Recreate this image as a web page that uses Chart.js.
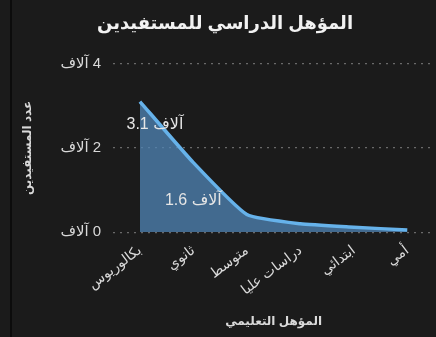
<!DOCTYPE html>
<html>
<head>
<meta charset="utf-8">
<script src="https://cdn.jsdelivr.net/npm/chart.js@4.4.0/dist/chart.umd.min.js"></script>
<style>
  body { margin: 0; background: #1b1b1b; }
  #wrap { position: relative; width: 436px; height: 337px; }
  #edge { position: absolute; left: 10px; top: 0; width: 2px; height: 337px; background: #0c0c0c; }
  canvas { position: absolute; left: 0; top: 0; }
</style>
</head>
<body>
<div id="wrap">
  <div id="edge"></div>
  <!-- rtl so "4 آلاف" puts the number on the right -->
  <canvas id="chartEdu" width="436" height="337" dir="rtl"></canvas>
</div>
<script>
// categories (education level)
const categories = ['بكالوريوس', 'ثانوي', 'متوسط', 'دراسات عليا', 'ابتدائي', 'أمي'];
// number of beneficiaries
const beneficiaries = [3100, 1650, 420, 200, 120, 50];
// y ticks
const Y_MAX = 4000;
const Y_STEP = 2000;

const TXT = '#d9d9d9';
const FONT = 'Arial, "DejaVu Sans", sans-serif';

// value labels on the big points only
const valueLabels = {
    id: 'valueLabels',
    afterDatasetsDraw(chart) {
        const ctx = chart.ctx;
        const meta = chart.getDatasetMeta(0);
        const shift = [[15, 23], [0, 38]];
        ctx.save();
        ctx.direction = 'ltr';
        ctx.font = '16px ' + FONT;
        ctx.fillStyle = '#e6e6e6';
        ctx.textAlign = 'center';
        ctx.textBaseline = 'middle';
        meta.data.forEach((pt, i) => {
            const v = beneficiaries[i];
            if (v < 1000) return;
            const s = shift[i] || [0, 25];
            ctx.fillText((v / 1000).toFixed(1) + ' آلاف', pt.x + s[0], pt.y + s[1]);
        });
        ctx.restore();
    }
};

const _config = {
    type: 'line',
    data: {
        labels: categories,
        datasets: [{
            label: 'عدد المستفيدين',
            data: beneficiaries,
            borderColor: '#66b2ea',
            borderWidth: 3.5,
            backgroundColor: 'rgba(80,134,184,0.74)',
            fill: 'origin',
            tension: 0.15,
            pointRadius: 0
        }]
    },
    options: {
        responsive: false,
        animation: false,
        layout: { padding: { left: 16, right: 2, top: 9, bottom: 4 } },
        plugins: {
            legend: { display: false },
            tooltip: { enabled: false },
            title: {
                display: true,
                text: 'المؤهل الدراسي للمستفيدين',
                color: '#f2f2f2',
                font: { size: 18, weight: 'bold', family: FONT },
                padding: { top: 4, bottom: 29 }
            }
        },
        scales: {
            x: {
                offset: true,
                grid: { display: false },
                border: { display: false },
                ticks: {
                    color: TXT,
                    font: { size: 14, family: FONT },
                    minRotation: 37,
                    maxRotation: 37,
                    padding: 2
                },
                title: {
                    display: true,
                    text: 'المؤهل التعليمي',
                    color: TXT,
                    font: { size: 12, weight: 'bold', family: FONT },
                    padding: { top: 14 }
                }
            },
            y: {
                min: 0,
                max: Y_MAX,
                grid: {
                    color: '#6a6a6a',
                    lineWidth: 1.2,
                    drawTicks: false
                },
                border: { display: false, dash: [2, 5] },
                ticks: {
                    stepSize: Y_STEP,
                    color: TXT,
                    font: { size: 15, family: FONT },
                    padding: 12,
                    callback: (v) => (v / 1000) + ' آلاف'
                },
                title: {
                    display: true,
                    text: 'عدد المستفيدين',
                    color: TXT,
                    font: { size: 12, weight: 'bold', family: FONT },
                    padding: { bottom: 14 }
                }
            }
        }
    },
    plugins: [valueLabels]
};

const chartEdu = new Chart(document.getElementById('chartEdu'), _config);
</script>
</body>
</html>
